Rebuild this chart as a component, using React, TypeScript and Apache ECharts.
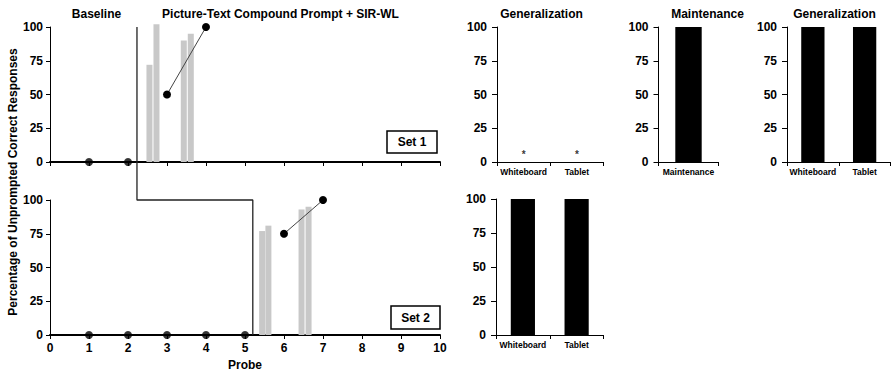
import React, { useEffect, useRef } from 'react';
import * as echarts from 'echarts';

const FONT = '"Liberation Sans", Arial, Helvetica, sans-serif';

// ---- data ----
const probeMin = 0;
const probeMax = 10;
const percentTicks = [0, 25, 50, 75, 100];

const set1Baseline = [[1, 0], [2, 0]];
const set1Treatment = [[3, 50], [4, 100]];
const set1Sessions = [[2.55, 72], [2.73, 102], [3.43, 90], [3.61, 95]];

const set2Baseline = [[1, 0], [2, 0], [3, 0], [4, 0], [5, 0]];
const set2Treatment = [[6, 75], [7, 100]];
const set2Sessions = [[5.44, 77], [5.6, 81], [6.45, 93], [6.63, 95]];

const phaseChangeSet1 = 2.23;
const phaseChangeSet2 = 5.2;

const genCategories = ['Whiteboard', 'Tablet'];
const set1GeneralizationPre = [0, 0]; // not assessed (*)
const maintCategories = ['Maintenance'];
const set1Maintenance = [100];
const set1GeneralizationPost = [100, 100];
const set2Generalization = [100, 100];

// overlay scale: bottom panel units, spanning from top panel top to bottom panel bottom
const overlayMax = 308 / 1.35;
const phaseLine = [
  [phaseChangeSet1, overlayMax],
  [phaseChangeSet1, 100],
  [phaseChangeSet2, 100],
  [phaseChangeSet2, 0],
];

const txt = (size: number) => ({ color: '#000', fontFamily: FONT, fontWeight: 'bold' as const, fontSize: size });

function probeX(gridIndex: number, labels: boolean) {
  return {
    type: 'value', gridIndex, min: probeMin, max: probeMax, interval: 1,
    axisLine: { show: true, lineStyle: { color: '#000', width: 2 } },
    axisTick: { show: true, length: 4, lineStyle: { color: '#000', width: 1 } },
    axisLabel: { show: labels, ...txt(12), margin: 7 },
    splitLine: { show: false },
    ...(labels ? { name: 'Probe', nameLocation: 'middle', nameGap: 24, nameTextStyle: txt(12) } : {}),
  };
}

function pctY(gridIndex: number, margin: number, tick: number) {
  return {
    type: 'value', gridIndex, min: percentTicks[0], max: percentTicks[percentTicks.length - 1], interval: 25,
    axisLine: { show: true, lineStyle: { color: '#000', width: 1 } },
    axisTick: { show: true, length: tick, lineStyle: { color: '#000', width: 1 } },
    axisLabel: { ...txt(12), margin },
    splitLine: { show: false },
  };
}

function catX(gridIndex: number, data: string[]) {
  return {
    type: 'category', gridIndex, data,
    axisLine: { show: true, lineStyle: { color: '#000', width: 1 } },
    axisTick: { show: true, length: 4, interval: 0, lineStyle: { color: '#000', width: 1 } },
    axisLabel: { ...txt(8.5), margin: 5, interval: 0, hideOverlap: false },
    splitLine: { show: false },
  };
}

const dot = { symbol: 'circle', symbolSize: 8, itemStyle: { color: '#000' } };

export default function App() {
  const ref = useRef<HTMLDivElement>(null);
  useEffect(() => {
    if (!ref.current) return;
    const chart = echarts.init(ref.current, undefined, { renderer: 'svg' });
    const titleText = (text: string, x: number, y: number, size = 12) => ({
      type: 'text', x, y, z: 10,
      style: {
        text, fill: '#000', font: `bold ${size}px ${FONT}`,
        align: 'center', verticalAlign: 'middle', textAlign: 'center', textVerticalAlign: 'middle',
      },
    });
    const box = (label: string, x: number, y: number, w: number, h: number) => ({
      type: 'group', z: 10,
      children: [
        { type: 'rect', shape: { x, y, width: w, height: h }, style: { fill: '#fff', stroke: '#000', lineWidth: 1.5 } },
        titleText(label, x + w / 2, y + h / 2),
      ],
    });
    chart.setOption({
      animation: false,
      backgroundColor: '#fff',
      grid: [
        { left: 50, top: 27, width: 390, height: 135 },
        { left: 50, top: 200, width: 390, height: 135 },
        { left: 50, top: 27, width: 390, height: 308 },
        { left: 497, top: 27, width: 106.5, height: 135 },
        { left: 658.5, top: 27, width: 60, height: 135 },
        { left: 787, top: 27, width: 103.5, height: 135 },
        { left: 496, top: 199, width: 107.5, height: 136 },
      ],
      xAxis: [
        probeX(0, false),
        probeX(1, true),
        { type: 'value', gridIndex: 2, min: probeMin, max: probeMax, show: false },
        catX(3, genCategories),
        catX(4, maintCategories),
        catX(5, genCategories),
        catX(6, genCategories),
      ],
      yAxis: [
        pctY(0, 7, 4),
        pctY(1, 7, 4),
        { type: 'value', gridIndex: 2, min: 0, max: overlayMax, show: false },
        pctY(3, 10, 5),
        pctY(4, 10, 5),
        pctY(5, 10, 5),
        pctY(6, 10, 5),
      ],
      series: [
        { type: 'bar', xAxisIndex: 0, yAxisIndex: 0, data: set1Sessions, barWidth: 6, barGap: '0%', clip: false, itemStyle: { color: '#c8c8c8' }, z: 1 },
        { type: 'scatter', xAxisIndex: 0, yAxisIndex: 0, data: set1Baseline, clip: false, ...dot, z: 5 },
        { type: 'line', xAxisIndex: 0, yAxisIndex: 0, data: set1Treatment, clip: false, ...dot, lineStyle: { color: '#444', width: 1 }, z: 5 },
        { type: 'bar', xAxisIndex: 1, yAxisIndex: 1, data: set2Sessions, barWidth: 6, barGap: '0%', clip: false, itemStyle: { color: '#c8c8c8' }, z: 1 },
        { type: 'scatter', xAxisIndex: 1, yAxisIndex: 1, data: set2Baseline, clip: false, ...dot, z: 5 },
        { type: 'line', xAxisIndex: 1, yAxisIndex: 1, data: set2Treatment, clip: false, ...dot, lineStyle: { color: '#444', width: 1 }, z: 5 },
        { type: 'line', xAxisIndex: 2, yAxisIndex: 2, data: phaseLine, symbol: 'none', clip: false, lineStyle: { color: '#222', width: 1.3 }, z: 4 },
        {
          type: 'scatter', xAxisIndex: 3, yAxisIndex: 3, data: set1GeneralizationPre, symbolSize: 0, clip: false,
          label: { show: true, formatter: '*', position: 'top', distance: 3, ...txt(10) },
        },
        { type: 'bar', xAxisIndex: 4, yAxisIndex: 4, data: set1Maintenance, barWidth: '44%', itemStyle: { color: '#000' } },
        { type: 'bar', xAxisIndex: 5, yAxisIndex: 5, data: set1GeneralizationPost, barWidth: '45%', itemStyle: { color: '#000' } },
        { type: 'bar', xAxisIndex: 6, yAxisIndex: 6, data: set2Generalization, barWidth: '45%', itemStyle: { color: '#000' } },
      ],
      graphic: [
        titleText('Baseline', 96.5, 14),
        titleText('Picture-Text Compound Prompt + SIR-WL', 280.5, 14),
        titleText('Generalization', 541.5, 14),
        titleText('Maintenance', 707.5, 14),
        titleText('Generalization', 834.5, 14),
        box('Set 1', 387, 131, 50, 22),
        box('Set 2', 391, 306, 49, 23),
        {
          type: 'text', x: 13, y: 182, rotation: Math.PI / 2, z: 10,
          style: {
            text: 'Percentage of Unprompted Correct Responses', fill: '#000', font: `bold 12px ${FONT}`,
            align: 'center', verticalAlign: 'middle', textAlign: 'center', textVerticalAlign: 'middle',
          },
        },
      ],
    });
    return () => chart.dispose();
  }, []);
  return <div ref={ref} style={{ position: 'fixed', left: 0, top: 0, width: 891, height: 373 }} />;
}
